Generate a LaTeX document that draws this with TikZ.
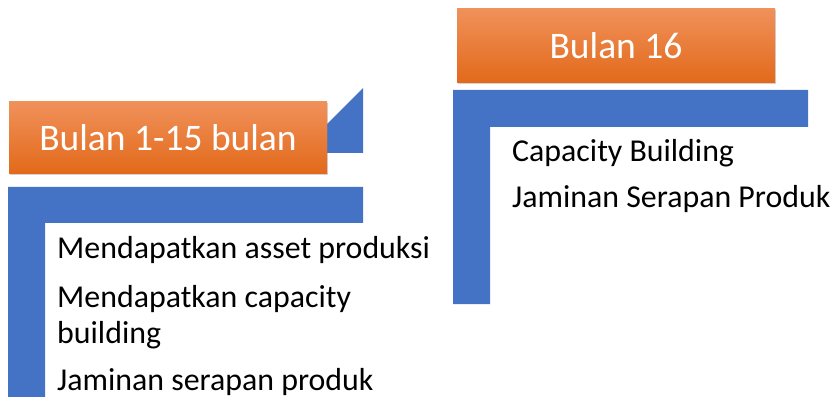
\documentclass[tikz,border=0pt]{standalone}
\usepackage{fontspec}
\setmainfont{Carlito}
\usetikzlibrary{shadows}
\definecolor{barblue}{HTML}{4472C4}
\definecolor{orangetop}{HTML}{F0915A}
\definecolor{orangemid}{HTML}{F47E2E}
\definecolor{orangebot}{HTML}{E2691A}

\begin{document}
\begin{tikzpicture}[x=0.3mm,y=-0.3mm,
  bar/.style={fill=barblue,draw=none},
  period/.style={rectangle,top color=orangetop,middle color=orangemid,bottom color=orangebot,
    text=white,font=\fontsize{32}{38}\selectfont,inner sep=0pt,
    drop shadow={opacity=0.35,shadow xshift=0.8pt,shadow yshift=-1.2pt}},
  item/.style={anchor=base west,inner sep=0pt,font=\fontsize{27.2}{32}\selectfont}]
\useasboundingbox (0,0) rectangle (838,397);

% Left block: blue frame
\fill[bar] (363,88) -- (363,153) -- (298,153) -- cycle;
\fill[bar] (8,187) -- (363,187) -- (363,223) -- (45,223) -- (45,397) -- (8,397) -- cycle;

% Left block: header
\node[period,minimum width=318*0.3mm,minimum height=72*0.3mm] (hdrA) at (168,138) {Bulan 1-15 bulan};

% Left block: items
\node[item] (itemA1) at (57,258) {Mendapatkan asset produksi};
\node[item] (itemA2) at (57,307) {Mendapatkan capacity};
\node[item] (itemA3) at (57,343) {building};
\node[item] (itemA4) at (57,390) {Jaminan serapan produk};

% Right block: blue frame
\fill[bar] (453,90) -- (808,90) -- (808,127) -- (490,127) -- (490,304) -- (453,304) -- cycle;

% Right block: header
\node[period,minimum width=318*0.3mm,minimum height=74*0.3mm] (hdrB) at (616,46) {Bulan 16};

% Right block: items
\node[item] (itemB1) at (512,162) {Capacity Building};
\node[item] (itemB2) at (512,208) {Jaminan Serapan Produk};
\end{tikzpicture}
\end{document}
